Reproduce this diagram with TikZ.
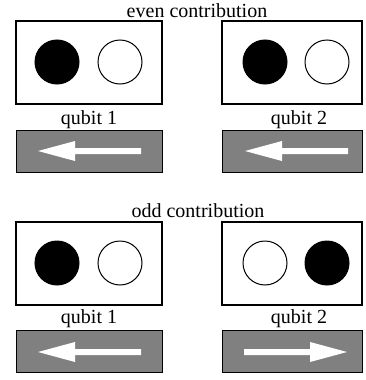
\documentclass[tikz,border=0pt]{standalone}
\usepackage{fontspec}
\setmainfont{Liberation Serif}
\definecolor{barg}{gray}{0.5}
\begin{document}
\begin{tikzpicture}[x=1pt,y=-1pt,
  box/.style={draw, line width=1.1pt, fill=white, inner sep=0pt},
  bar/.style={draw, line width=1pt, fill=barg, inner sep=0pt},
  ball/.style={circle, draw, line width=1pt, minimum size=44pt, inner sep=0pt},
  full/.style={ball, fill=black},
  empty/.style={ball, fill=white},
  lab/.style={anchor=base, inner sep=0pt, font=\fontsize{20}{21}\selectfont},
  arrowL/.pic={\fill[white] (0,0) -- (37,-10) -- (37,-3) -- (103,-3) -- (103,3) -- (37,3) -- (37,10) -- cycle;}]
\useasboundingbox (0,0) rectangle (365,380);
% even
\node[lab] (even) at (197,17) {even contribution};
\node[box, minimum width=146pt, minimum height=83pt] (b1) at (89,62.5) {};
\node[box, minimum width=140pt, minimum height=83pt] (b2) at (292,62.5) {};
\node[full] (c1) at (57,62) {};
\node[empty] (c2) at (120,62) {};
\node[full] (c3) at (265,62) {};
\node[empty] (c4) at (327,62) {};
\node[lab] (q1) at (89,124) {qubit 1};
\node[lab] (q2) at (299,124) {qubit 2};
\node[bar, minimum width=146pt, minimum height=42pt] (r1) at (89,151) {};
\node[bar, minimum width=140pt, minimum height=42pt] (r2) at (292,151) {};
\pic at (38,151) {arrowL};
\pic at (245,151) {arrowL};
% odd
\node[lab] (odd) at (198,217) {odd contribution};
\node[box, minimum width=146pt, minimum height=83pt] (b3) at (89,263.5) {};
\node[box, minimum width=140pt, minimum height=83pt] (b4) at (292,263.5) {};
\node[full] (c5) at (57,263) {};
\node[empty] (c6) at (120,263) {};
\node[empty] (c7) at (265,263) {};
\node[full] (c8) at (327,263) {};
\node[lab] (q3) at (89,323) {qubit 1};
\node[lab] (q4) at (299,323) {qubit 2};
\node[bar, minimum width=146pt, minimum height=42pt] (r3) at (89,351.5) {};
\node[bar, minimum width=140pt, minimum height=42pt] (r4) at (292,351.5) {};
\pic at (38,352) {arrowL};
\pic[xscale=-1] at (347,352) {arrowL};
\end{tikzpicture}
\end{document}
